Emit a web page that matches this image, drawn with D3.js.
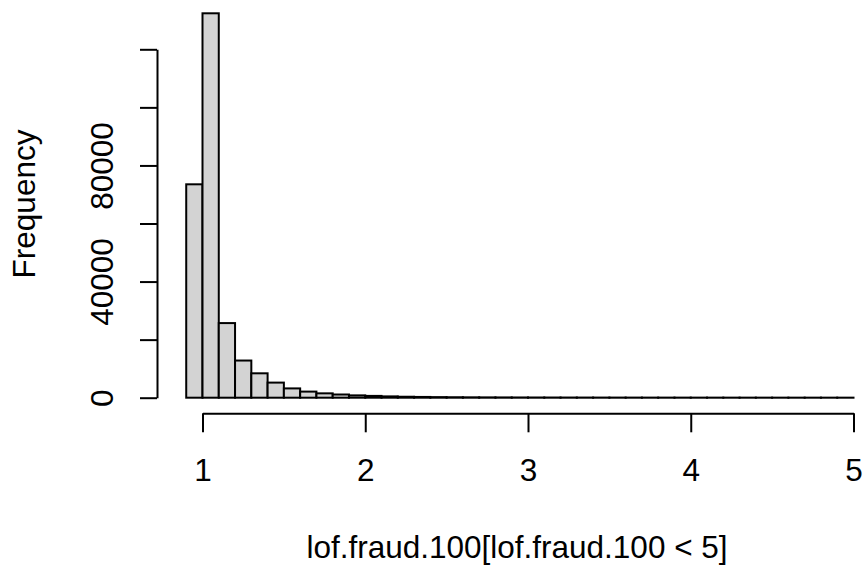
<!DOCTYPE html>
<html>
<head>
<meta charset="utf-8">
<script src="https://cdn.jsdelivr.net/npm/d3@7"></script>
<style>
  html, body { margin: 0; padding: 0; background: #fff; }
  svg text { font-family: "Liberation Sans", Arial, Helvetica, sans-serif; fill: #000; }
</style>
</head>
<body>
<svg id="chart" width="863" height="565"></svg>
<script>
// Histogram of local outlier factor scores (values below 5), bins of width 0.1
const binStart = 0.9;
const binWidth = 0.1;
const counts = [
  73500, 132400, 25700, 12800, 8400, 5200, 3200, 2100, 1500, 1100,
  800, 620, 450, 330, 260, 200, 160, 130, 110, 95,
  82, 72, 64, 57, 51, 46, 42, 38, 35, 32,
  30, 28, 26, 24, 22, 21, 20, 19, 18, 17, 16
];
const xTicks = [1, 2, 3, 4, 5];
const yTicks = [0, 20000, 40000, 60000, 80000, 100000, 120000];
const yTickLabels = ["0", "", "40000", "", "80000", "", ""];
const xTitle = "lof.fraud.100[lof.fraud.100 < 5]";
const yTitle = "Frequency";

const bins = counts.map((c, i) => ({
  x0: +(binStart + i * binWidth).toFixed(1),
  x1: +(binStart + (i + 1) * binWidth).toFixed(1),
  count: c
}));

const svg = d3.select("#chart");
const fontSize = 31.5;

const x = d3.scaleLinear().domain([1, 5]).range([202.5, 853.5]);
const y = d3.scaleLinear().domain([0, 120000]).range([397.7, 49.3]);

const xAxisY = 413.3;
const yAxisX = 157;

// bars
svg.append("g")
  .selectAll("rect")
  .data(bins)
  .join("rect")
  .attr("x", d => x(d.x0))
  .attr("width", d => x(d.x1) - x(d.x0))
  .attr("y", d => y(d.count))
  .attr("height", d => y(0) - y(d.count))
  .attr("fill", "#d3d3d3")
  .attr("stroke", "#000")
  .attr("stroke-width", 2);

// x axis
const gx = svg.append("g")
  .attr("transform", `translate(0,${xAxisY})`)
  .call(d3.axisBottom(x).tickValues(xTicks).tickSize(19).tickSizeOuter(0)
    .tickFormat(d3.format("d")));
gx.selectAll("path, line").attr("stroke", "#000").attr("stroke-width", 2);
gx.selectAll("text")
  .attr("y", 68.2).attr("dy", null)
  .attr("font-size", fontSize);

// y axis
const gy = svg.append("g")
  .attr("transform", `translate(${yAxisX},0)`)
  .call(d3.axisLeft(y).tickValues(yTicks).tickSize(17).tickSizeOuter(0)
    .tickFormat((d, i) => yTickLabels[i]));
gy.selectAll("path, line").attr("stroke", "#000").attr("stroke-width", 2);
gy.selectAll("text")
  .attr("transform", "rotate(-90)")
  .attr("x", 0).attr("y", -44.5).attr("dy", null)
  .attr("text-anchor", "middle")
  .attr("font-size", fontSize);
svg.selectAll(".domain").attr("fill", "none");
svg.selectAll("g").attr("font-family", null);

// titles
svg.append("text")
  .attr("x", 517).attr("y", 558)
  .attr("text-anchor", "middle")
  .attr("font-size", fontSize)
  .text(xTitle);

svg.append("text")
  .attr("transform", "translate(35,204) rotate(-90)")
  .attr("text-anchor", "middle")
  .attr("font-size", fontSize)
  .text(yTitle);
</script>
</body>
</html>
